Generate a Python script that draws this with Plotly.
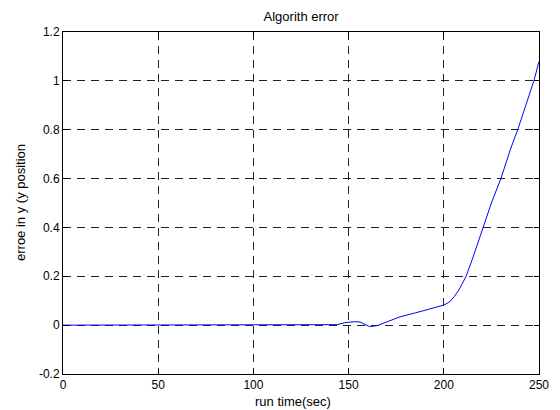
import plotly.graph_objects as go

# ── Data ───────────────────────────────────────────────────────────────────────
run_time = [0, 70, 74, 78, 82, 86, 140, 144, 148, 153, 156, 158, 161, 165,
            170, 177, 185, 193, 200, 203, 205.4, 208, 211.6, 215, 218, 220.4,
            225, 230, 235, 239, 243, 247.5, 250]
err_y = [0.0, 0.0, 0.003, 0.003, 0.003, 0.0, 0.0, 0.002, 0.01, 0.014, 0.013,
         0.004, -0.006, -0.002, 0.012, 0.034, 0.05, 0.066, 0.082, 0.095, 0.116,
         0.145, 0.198, 0.27, 0.34, 0.398, 0.5, 0.6, 0.72, 0.804, 0.9, 1.005, 1.08]

x_ticks = [0, 50, 100, 150, 200, 250]
x_labels = ["0", "50", "100", "150", "200", "250"]
y_ticks = [-0.2, 0, 0.2, 0.4, 0.6, 0.8, 1, 1.2]
y_labels = ["-0.2", "0", "0.2", "0.4", "0.6", "0.8", "1", "1.2"]

FONT = "Liberation Sans, Arial, sans-serif"
TXT = dict(family=FONT, size=13, color="black")

fig = go.Figure()
fig.add_trace(go.Scatter(
    x=run_time, y=err_y, mode="lines",
    line=dict(color="#0000ff", width=1),
    showlegend=False,
))

# MATLAB look: boxed axes, inward ticks, dashed black grid
axis_common = dict(
    showline=True, linecolor="black", linewidth=1, mirror="ticks",
    ticks="inside", ticklen=5, tickcolor="black",
    showgrid=True, gridcolor="#222222", gridwidth=1, griddash="8px,6px",
    zeroline=False,
    tickfont=dict(family=FONT, size=12, color="black"),
)

fig.update_xaxes(range=[0, 250], tickvals=x_ticks, ticktext=x_labels, **axis_common)
fig.update_yaxes(range=[-0.2, 1.2], tickvals=y_ticks, ticktext=y_labels, **axis_common)

# the page body has an 8px margin, so the figure is 8px smaller than the window
fig.update_layout(
    width=552, height=402,
    margin=dict(l=55, r=21, t=24, b=36, autoexpand=False),
    paper_bgcolor="white", plot_bgcolor="white",
    title=dict(text="Algorith error", x=0.531, xanchor="center",
               y=0.980, yanchor="middle", font=TXT),
    font=dict(family=FONT),
)
fig.add_annotation(text="run time(sec)", xref="paper", yref="paper",
                   x=0.483, y=0, yshift=-27, xanchor="center", yanchor="middle",
                   showarrow=False, font=TXT)
fig.add_annotation(text="erroe in y (y position", xref="paper", yref="paper",
                   x=0, y=0.5, xshift=-43, xanchor="center", yanchor="middle",
                   textangle=-90, showarrow=False, font=TXT)

fig.write_html("out.html")
